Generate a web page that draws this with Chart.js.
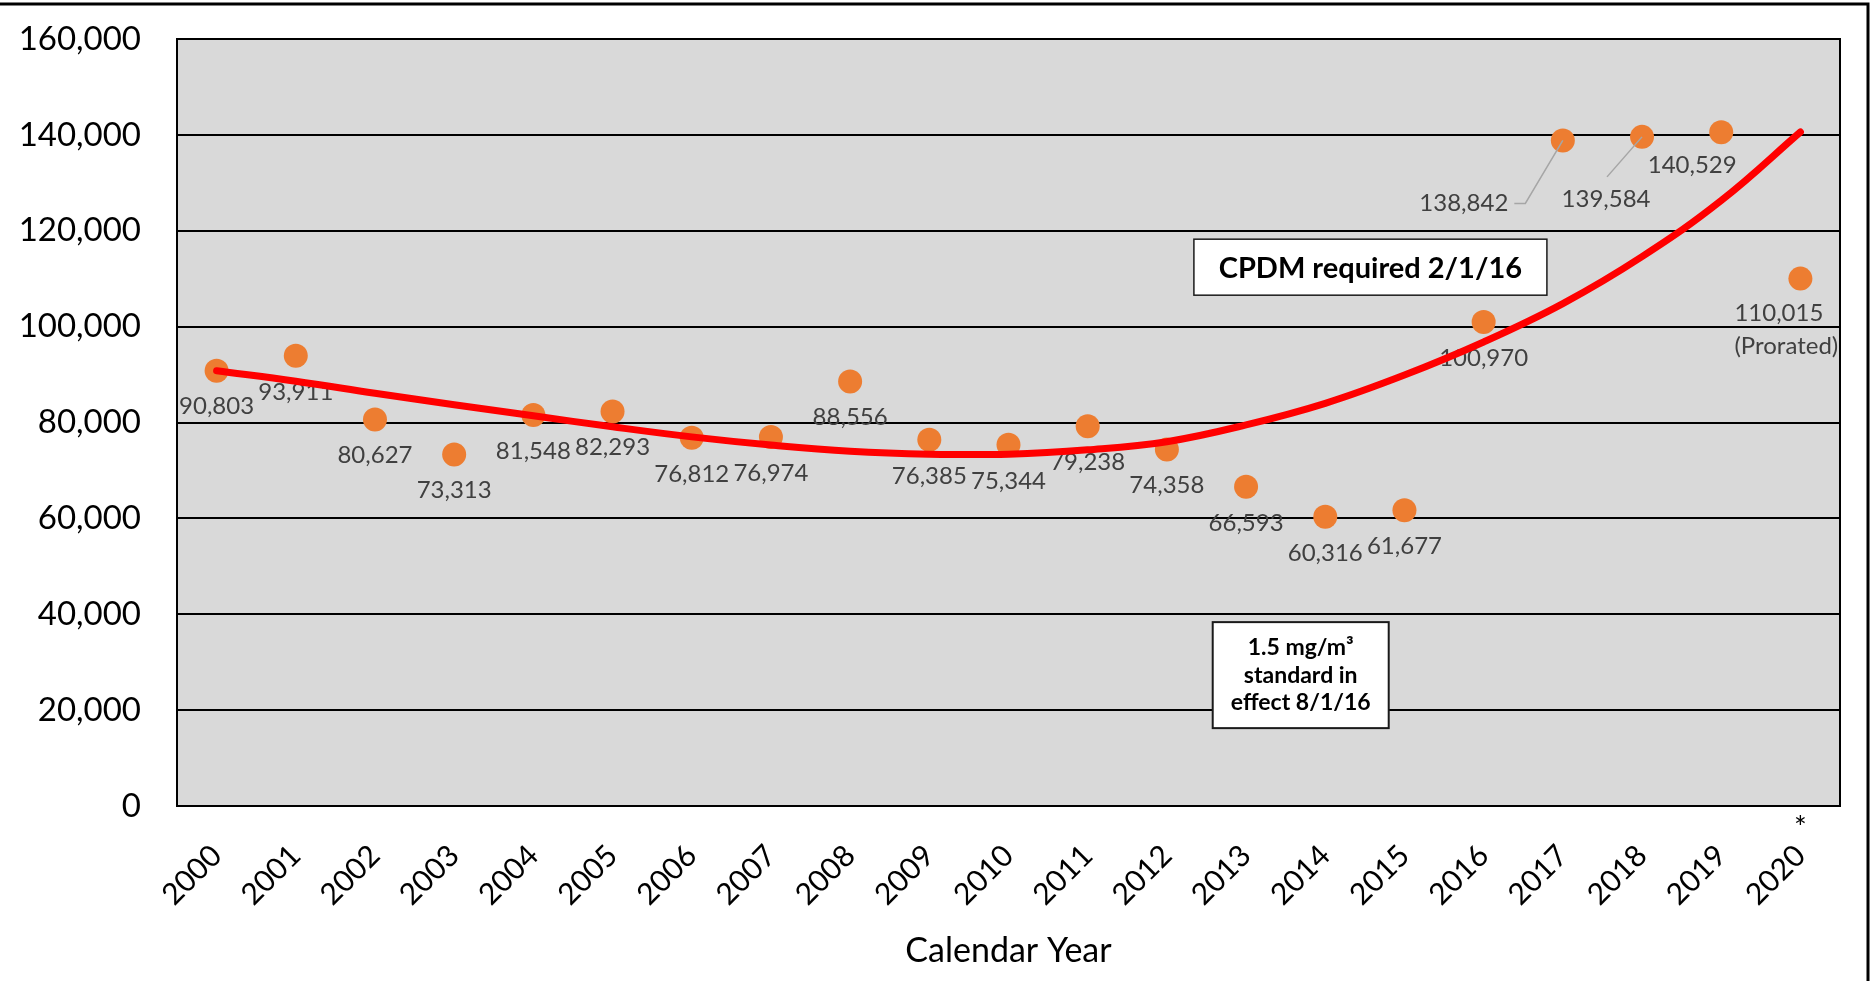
<!DOCTYPE html>
<html>
<head>
<meta charset="utf-8">
<script src="https://cdn.jsdelivr.net/npm/chart.js@4.4.0/dist/chart.umd.min.js"></script>
<style>
  html,body{margin:0;padding:0;background:#fff;}
  canvas{display:block;}
</style>
</head>
<body>
<canvas id="chart" width="1874" height="981"></canvas>
<script>
/* ---------- data ---------- */
const years = ['2000','2001','2002','2003','2004','2005','2006','2007','2008','2009','2010',
               '2011','2012','2013','2014','2015','2016','2017','2018','2019','2020'];
const samples = [90803, 93911, 80627, 73313, 81548, 82293, 76812, 76974, 88556, 76385, 75344,
                 79238, 74358, 66593, 60316, 61677, 100970, 138842, 139584, 140529, 110015];
// polynomial trendline
const trend = [90800, 88600, 86100, 83700, 81400, 79100, 77000, 75300, 74000, 73400, 73400,
               74300, 76000, 79500, 84000, 89900, 96800, 104800, 114600, 126300, 140600];
const yMin = 0, yMax = 160000, yStep = 20000;
const notes = ['CPDM required 2/1/16', ['1.5 mg/m³', 'standard in', 'effect 8/1/16']];

/* ---------- look ---------- */
const FONT = 'Lato, "Open Sans", sans-serif';
const ORANGE = '#ED7D31';
const fmt = v => v.toLocaleString('en-US');

// label placement (px from point centre); default is straight below
const labelShift = { 17:[-99, 63], 18:[-36, 62], 19:[-29, 33] };

const decor = {
  id:'decor',
  beforeDraw(chart){
    const {ctx, chartArea:a} = chart;
    ctx.save();
    ctx.fillStyle = '#D9D9D9';
    ctx.fillRect(a.left, a.top, a.right-a.left, a.bottom-a.top);
    // outer frame, only top and right edges are in the picture
    ctx.strokeStyle = '#000'; ctx.lineWidth = 3;
    ctx.beginPath(); ctx.moveTo(0, 4); ctx.lineTo(1868, 4); ctx.lineTo(1868, 981); ctx.stroke();
    ctx.restore();
  },
  beforeDatasetsDraw(chart){
    const {ctx, chartArea:a} = chart;
    ctx.save();
    ctx.strokeStyle = '#000'; ctx.lineWidth = 2;
    ctx.strokeRect(a.left, a.top, a.right-a.left, a.bottom-a.top);

    // data labels
    const pts = chart.getDatasetMeta(1).data;
    ctx.fillStyle = '#404040';
    ctx.font = '24px ' + FONT;
    ctx.textBaseline = 'middle';
    pts.forEach((p, i) => {
      if (i === 20) {
        ctx.textAlign = 'left';
        ctx.fillText(fmt(samples[i]), p.x - 66, p.y + 35);
        ctx.fillText('(Prorated)', p.x - 66, p.y + 68);
        return;
      }
      const s = labelShift[i] || [0, 36];
      ctx.textAlign = 'center';
      ctx.fillText(fmt(samples[i]), p.x + s[0], p.y + s[1]);
    });
    ctx.restore();
  },
  afterDatasetsDraw(chart){
    const {ctx, chartArea:a, scales:{x, y}} = chart;
    const pts = chart.getDatasetMeta(1).data;
    ctx.save();
    ctx.font = '24px ' + FONT;

    // leader lines for the crowded 2017/2018 labels
    ctx.strokeStyle = '#A6A6A6'; ctx.lineWidth = 1.5;
    let p = pts[17], lx = p.x - 99 + ctx.measureText(fmt(samples[17])).width/2, ly = p.y + 63;
    ctx.beginPath(); ctx.moveTo(lx + 6, ly); ctx.lineTo(lx + 17, ly); ctx.lineTo(p.x, p.y); ctx.stroke();
    p = pts[18];
    ctx.beginPath(); ctx.moveTo(p.x - 35, p.y + 40); ctx.lineTo(p.x, p.y); ctx.stroke();

    // text boxes
    const px = i => x.getPixelForValue(0) + i*(x.getPixelForValue(1) - x.getPixelForValue(0));
    const box = (cx, cy, w, h, bw) => {
      ctx.fillStyle = '#fff';
      ctx.fillRect(cx - w/2, cy - h/2, w, h);
      ctx.strokeStyle = '#1a1a1a'; ctx.lineWidth = bw;
      ctx.strokeRect(cx - w/2, cy - h/2, w, h);
    };
    let cx = px(14.57), cy = y.getPixelForValue(112400);
    box(cx, cy, 353, 56, 1.5);
    ctx.fillStyle = '#000'; ctx.textAlign = 'center'; ctx.textBaseline = 'middle';
    ctx.font = 'bold 29px ' + FONT;
    ctx.fillText(notes[0], cx, cy + 1);

    cx = px(13.69); cy = y.getPixelForValue(27300);
    box(cx, cy, 176, 106, 2);
    ctx.fillStyle = '#000';
    ctx.font = 'bold 23px ' + FONT;
    notes[1].forEach((t, k) => ctx.fillText(t, cx, cy + (k - 1)*27.5));

    // asterisk on the 2020 label
    ctx.font = '30px ' + FONT;
    ctx.fillText('*', x.getPixelForValue(20), a.bottom + 22);
    ctx.restore();
  }
};

new Chart(document.getElementById('chart'), {
  type:'line',
  data:{
    labels: years,
    datasets:[
      { label:'Trend', data: trend, borderColor:'#FF0000', borderWidth:7, pointRadius:0,
        tension:0.4, borderCapStyle:'round', fill:false },
      { label:'Samples', data: samples, showLine:false, pointRadius:12, pointHoverRadius:12,
        pointBackgroundColor: ORANGE, pointBorderWidth:0 }
    ]
  },
  options:{
    responsive:false, devicePixelRatio:1, animation:false,
    layout:{ padding:{ top:39, right:34, left:0, bottom:0 } },
    plugins:{ legend:{display:false}, tooltip:{enabled:false} },
    scales:{
      x:{
        offset:true,
        grid:{ display:false, drawTicks:false },
        border:{ display:false },
        ticks:{ color:'#000', font:{family:FONT, size:30}, minRotation:45, maxRotation:45, padding:32, autoSkip:false },
        title:{ display:true, text:'Calendar Year', color:'#000', font:{family:FONT, size:34},
                padding:{top:0, bottom:10} },
        afterFit(s){ s.height = 175; }
      },
      y:{
        min:yMin, max:yMax,
        grid:{ color:'#000', lineWidth:2, drawTicks:false },
        border:{ display:false },
        ticks:{ stepSize:yStep, color:'#000', font:{family:FONT, size:33}, padding:36, callback:v => fmt(v) },
        afterFit(s){ s.width = 177; s.paddingTop = 0; s.paddingBottom = 0; }
      }
    }
  },
  plugins:[decor]
});
</script>
</body>
</html>
